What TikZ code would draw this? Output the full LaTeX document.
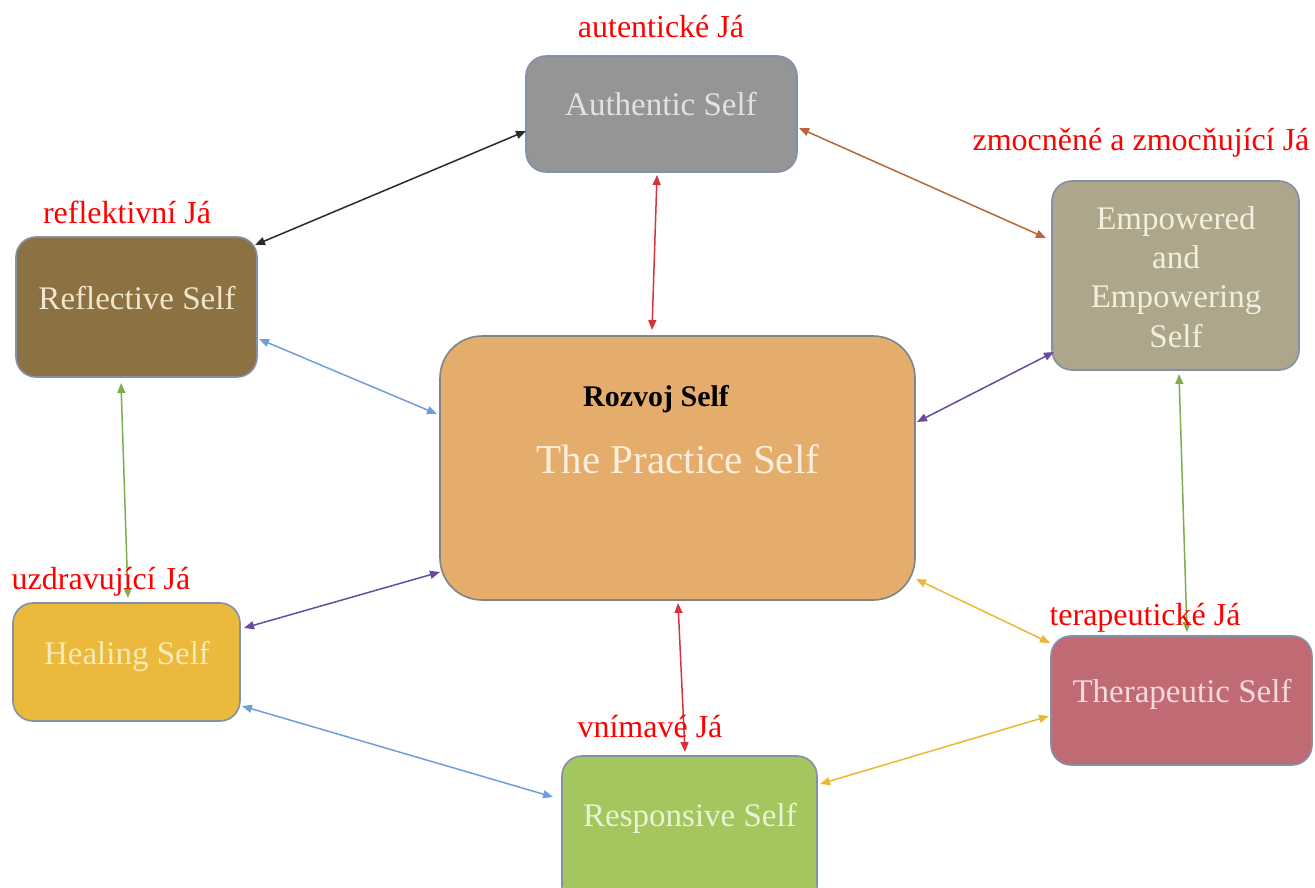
\documentclass[tikz,border=0pt]{standalone}
\usepackage{fontspec}
\setmainfont{Liberation Serif}
\usetikzlibrary{arrows.meta,calc}
\definecolor{bordc}{HTML}{8290A8}
\definecolor{authf}{HTML}{959595}
\definecolor{authT}{HTML}{E2E2E2}
\definecolor{reflf}{HTML}{8C7242}
\definecolor{reflT}{HTML}{EFE6CC}
\definecolor{empf}{HTML}{ADA68A}
\definecolor{empT}{HTML}{F3EFDE}
\definecolor{pracf}{HTML}{E5AD6C}
\definecolor{pracT}{HTML}{FCEEDC}
\definecolor{healf}{HTML}{EBBA3C}
\definecolor{healT}{HTML}{F8EAB8}
\definecolor{therf}{HTML}{C06A74}
\definecolor{therT}{HTML}{F4DADE}
\definecolor{respf}{HTML}{A3C65E}
\definecolor{respT}{HTML}{EAF3D8}
\definecolor{cBlack}{HTML}{2A2A2A}
\definecolor{cBrown}{HTML}{B8663A}
\definecolor{cRed}{HTML}{D8343E}
\definecolor{cBlue}{HTML}{6F9FD8}
\definecolor{cPurple}{HTML}{6A4A9C}
\definecolor{cGreen}{HTML}{7BAF4E}
\definecolor{cYellow}{HTML}{E9B936}
\definecolor{lblred}{HTML}{FF0000}
\tikzset{
  box/.style={draw=bordc, line width=1.6pt, rounded corners=20pt, inner sep=0pt},
  boxtext/.style={anchor=base, inner sep=0pt, font=\fontsize{33}{39}\selectfont},
  czlabel/.style={anchor=base, inner sep=0pt, text=lblred, font=\fontsize{32}{38}\selectfont},
  link/.style={line width=1.5pt, {Triangle[length=10pt,width=8pt]}-{Triangle[length=10pt,width=8pt]}},
}
\begin{document}
\begin{tikzpicture}[x=1pt,y=-1pt]
\useasboundingbox (0,0) rectangle (1315,888);
\clip (0,0) rectangle (1315,888);
\fill[white] (0,0) rectangle (1315,888);

% boxes
\node[box, fill=authf, minimum width=271pt, minimum height=116pt] (auth) at (661.5,114) {};
\node[box, fill=reflf, minimum width=241pt, minimum height=140pt] (refl) at (136.5,307) {};
\node[box, fill=empf, minimum width=247pt, minimum height=189pt] (emp) at (1175.5,275.5) {};
\node[box, fill=pracf, draw=gray!80!bordc, rounded corners=42pt, minimum width=475pt, minimum height=264pt] (prac) at (677.5,468) {};
\node[box, fill=healf, minimum width=227pt, minimum height=118pt] (heal) at (126.5,662) {};
\node[box, fill=therf, minimum width=261pt, minimum height=129pt] (ther) at (1181.5,700.5) {};
\node[box, fill=respf, minimum width=255pt, minimum height=150pt] (resp) at (689.5,831) {};

% box texts
\node[boxtext, text=authT] (tauth) at (661,116) {Authentic Self};
\node[boxtext, text=reflT] (trefl) at (137,309) {Reflective Self};
\node[boxtext, text=empT] (temp1) at (1176,229) {Empowered};
\node[boxtext, text=empT] (temp2) at (1176,268) {and};
\node[boxtext, text=empT] (temp3) at (1176,307) {Empowering};
\node[boxtext, text=empT] (temp4) at (1176,347) {Self};
\node[boxtext, text=healT] (theal) at (127,664) {Healing Self};
\node[boxtext, text=therT] (tther) at (1182,702) {Therapeutic Self};
\node[boxtext, text=respT] (tresp) at (690,826) {Responsive Self};
\node[anchor=base, inner sep=0pt, text=pracT, font=\fontsize{41}{48}\selectfont] (tprac) at (678,473) {The Practice Self};
\node[anchor=base, inner sep=0pt, text=black, font=\fontsize{30}{36}\selectfont\bfseries] (rozvoj) at (656,406) {Rozvoj Self};

% connectors
\draw[link, cBlack]  ($(auth.center)+(-135.5,17)$) -- ($(refl.center)+(118.5,-62)$);
\draw[link, cBrown]  ($(auth.center)+(137.5,14)$) -- ($(emp.center)+(-129.5,-37.5)$);
\draw[link, cRed]    ($(auth.center)+(-4.5,61)$) -- ($(prac.center)+(-25.5,-138)$);
\draw[link, cBlue]   ($(refl.center)+(122.5,32)$) -- ($(prac.center)+(-240.5,-54)$);
\draw[link, cPurple] ($(emp.center)+(-121.5,76.5)$) -- ($(prac.center)+(239.5,-46)$);
\draw[link, cGreen]  ($(refl.center)+(-15.5,76)$) -- ($(heal.center)+(1.5,-64)$);
\draw[link, cGreen]  ($(emp.center)+(3.5,98.5)$) -- ($(ther.center)+(5.5,-68.5)$);
\draw[link, cPurple] ($(heal.center)+(117.5,-34)$) -- ($(prac.center)+(-237.5,104)$);
\draw[link, cBlue]   ($(heal.center)+(115.5,44)$) -- ($(resp.center)+(-136.5,-34)$);
\draw[link, cRed]    ($(prac.center)+(0.5,135)$) -- ($(resp.center)+(-4.5,-79)$);
\draw[link, cYellow] ($(prac.center)+(238.5,111)$) -- ($(ther.center)+(-131.5,-57.5)$);
\draw[link, cYellow] ($(ther.center)+(-132.5,15.5)$) -- ($(resp.center)+(130.5,-47)$);

% Czech labels
\node[czlabel] (lauth) at (661,38) {autentické Já};
\node[czlabel] (lemp) at (1141,151) {zmocněné a zmocňující Já};
\node[czlabel] (lrefl) at (127,223) {reflektivní Já};
\node[czlabel] (lheal) at (101,589) {uzdravující Já};
\node[czlabel] (lther) at (1145,625) {terapeutické Já};
\node[czlabel] (lresp) at (650,737) {vnímavé Já};
\end{tikzpicture}
\end{document}
